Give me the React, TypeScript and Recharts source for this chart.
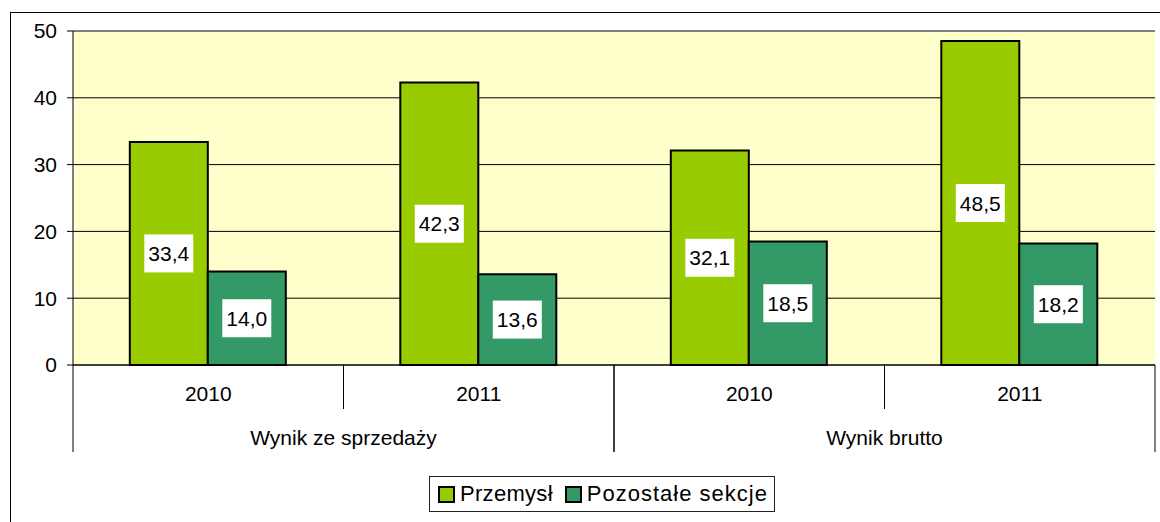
import React from 'react';
import { BarChart, Bar, XAxis, YAxis, CartesianGrid, Legend, LabelList, ReferenceLine } from 'recharts';

const years = ['2010', '2011', '2010', '2011'];
const groups = ['Wynik ze sprzedaży', 'Wynik ze sprzedaży', 'Wynik brutto', 'Wynik brutto'];
const przemysl = [33.4, 42.3, 32.1, 48.5];
const pozostale = [14.0, 13.6, 18.5, 18.2];
const yTicks = [0, 10, 20, 30, 40, 50];

const seriesNames = ['Przemysł', 'Pozostałe sekcje'];
const seriesColors = ['#99CC00', '#339966'];

const chartData = years.map((year, i) => ({
  year,
  group: groups[i],
  przemysl: przemysl[i],
  pozostale: pozostale[i],
}));

const FONT = '"Liberation Sans", Arial, sans-serif';
const W = 1160;
const H = 522;
const margin = { top: 31, right: 5, left: 13, bottom: 10 };
const Y_AXIS_W = 60;
const YEAR_AXIS_H = 45;
const GROUP_AXIS_H = 66;
const plotW = W - margin.left - Y_AXIS_W - margin.right;

const fmt = (v: number) => v.toFixed(1).replace('.', ',');

// white box with the value, centred in the bar
const BoxLabel = (props: any) => {
  const { x, y, width, height, value } = props;
  const cx = x + width / 2;
  const cy = y + height / 2;
  return (
    <g>
      <rect x={cx - 24.5} y={cy - 19} width={49} height={38} fill="#fff" />
      <text x={cx} y={cy + 7.5} textAnchor="middle" fontSize={21} fontFamily={FONT} fill="#000">
        {fmt(value)}
      </text>
    </g>
  );
};

const YearTick = (props: any) => {
  const { x, y, payload } = props;
  const half = payload.offset || plotW / years.length / 2;
  const idx = payload.index;
  // divider between the two years of the same group
  const showDivider = idx % 2 === 0;
  return (
    <g>
      <text x={x} y={y + 36} textAnchor="middle" fontSize={21} fontFamily={FONT} fill="#000">
        {payload.value}
      </text>
      {showDivider && <line x1={x + half} x2={x + half} y1={y} y2={y + YEAR_AXIS_H - 1} stroke="#000" />}
    </g>
  );
};

const GroupTick = (props: any) => {
  const { x, y, payload } = props;
  const half = payload.offset || plotW / 4;
  return (
    <g>
      <text x={x} y={y + 35} textAnchor="middle" fontSize={21} fontFamily={FONT} fill="#000">
        {payload.value}
      </text>
      <line x1={x - half} x2={x - half} y1={y - YEAR_AXIS_H} y2={y + 42} stroke="#000" />
      <line x1={x + half} x2={x + half} y1={y - YEAR_AXIS_H} y2={y + 42} stroke="#000" />
    </g>
  );
};

const LegendBox = () => (
  <div
    style={{
      display: 'inline-flex',
      alignItems: 'center',
      height: 36,
      boxSizing: 'border-box',
      border: '1px solid #222',
      padding: '0 6px 0 8px',
      fontFamily: FONT,
      fontSize: 22,
      color: '#000',
      background: '#fff',
    }}
  >
    {seriesNames.map((name, i) => (
      <span key={name} style={{ display: 'inline-flex', alignItems: 'center', marginRight: i === 0 ? 12 : 0 }}>
        <span
          style={{
            display: 'inline-block',
            width: 13,
            height: 13,
            background: seriesColors[i],
            border: '2px solid #000',
            marginRight: 5,
          }}
        />
        <span style={{ letterSpacing: i === 0 ? 0.3 : 1 }}>{name}</span>
      </span>
    ))}
  </div>
);

export default function App() {
  return (
    <div style={{ position: 'relative', width: W, height: H }}>
      <style>{`body{margin:0;overflow:hidden;background:#fff}`}</style>
      <div
        style={{
          position: 'absolute',
          left: 10,
          top: 12,
          width: W,
          height: H,
          borderTop: '1px solid #000',
          borderLeft: '1px solid #000',
          pointerEvents: 'none',
        }}
      />
      <div style={{ position: 'absolute', left: 0, top: 0 }}>
        <BarChart
          width={W}
          height={H}
          data={chartData}
          margin={margin}
          barCategoryGap="21%"
          barGap={0}
          style={{ fontFamily: FONT }}
        >
          <CartesianGrid vertical={false} stroke="#000" fill="#FFFFCC" fillOpacity={1} />
          <XAxis
            dataKey="year"
            height={YEAR_AXIS_H}
            axisLine={{ stroke: '#000' }}
            tickLine={false}
            tickSize={0}
            tickMargin={0}
            interval={0}
            tick={<YearTick />}
          />
          <XAxis
            xAxisId="group"
            dataKey="group"
            allowDuplicatedCategory={false}
            height={GROUP_AXIS_H}
            axisLine={false}
            tickLine={false}
            tickSize={0}
            tickMargin={0}
            interval={0}
            tick={<GroupTick />}
          />
          <YAxis
            width={Y_AXIS_W}
            domain={[0, 50]}
            ticks={yTicks}
            interval={0}
            tickSize={6}
            tickMargin={10}
            axisLine={{ stroke: '#000' }}
            tickLine={{ stroke: '#000' }}
            tick={{ fill: '#000', fontSize: 21, fontFamily: FONT }}
          />
          <YAxis
            yAxisId="right"
            orientation="right"
            width={0}
            domain={[0, 50]}
            tick={false}
            tickLine={false}
            axisLine={{ stroke: '#808080', strokeWidth: 2 }}
          />
          <ReferenceLine y={50} stroke="#808080" strokeWidth={2} />
          <Legend
            verticalAlign="bottom"
            content={<LegendBox />}
            wrapperStyle={{ left: 429, width: 'auto', lineHeight: 0 }}
          />
          <Bar dataKey="przemysl" name={seriesNames[0]} fill={seriesColors[0]} stroke="#000" strokeWidth={2} isAnimationActive={false}>
            <LabelList dataKey="przemysl" content={<BoxLabel />} />
          </Bar>
          <Bar dataKey="pozostale" name={seriesNames[1]} fill={seriesColors[1]} stroke="#000" strokeWidth={2} isAnimationActive={false}>
            <LabelList dataKey="pozostale" content={<BoxLabel />} />
          </Bar>
        </BarChart>
      </div>
    </div>
  );
}
